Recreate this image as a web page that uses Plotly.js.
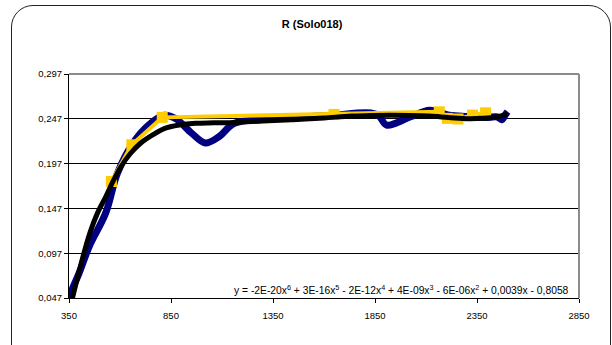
<!DOCTYPE html>
<html><head><meta charset="utf-8">
<script src="https://cdn.plot.ly/plotly-3.0.1.min.js"></script>
<style>
html,body{margin:0;padding:0;background:#fff;}
#frame{position:absolute;left:11px;top:5px;width:600px;height:370px;border:1.5px solid #222;border-radius:22px;box-sizing:border-box;}
#chart{position:absolute;left:0;top:0;width:612px;height:345px;}
</style></head>
<body>
<div id="frame"></div>
<div id="chart"></div>
<script>
// Blue measured series
const blueX = [350, 400, 450, 530, 587, 664, 740, 817, 874, 951, 1018, 1085, 1161, 1352, 1500, 1639, 1830, 1870, 1907, 2022, 2118, 2213, 2300, 2404, 2450, 2471, 2490, 2500];
const blueY = [0.049, 0.075, 0.105, 0.142, 0.186, 0.220, 0.240, 0.251, 0.247, 0.231, 0.220, 0.227, 0.242, 0.247, 0.249, 0.251, 0.2535, 0.250, 0.240, 0.249, 0.2565, 0.251, 0.2495, 0.2485, 0.249, 0.246, 0.252, 0.255];
// Yellow series with markers
const yellowX = [558, 658, 807, 1649, 2165, 2205, 2257, 2328, 2392];
const yellowY = [0.177, 0.218, 0.2486, 0.2519, 0.2548, 0.2475, 0.2468, 0.2511, 0.2537];
// Polynomial trend line
const trendX = [367, 410, 453, 490, 530, 570, 606, 650, 702, 760, 817, 890, 970, 1060, 1161, 1300, 1448, 1600, 1735, 1830, 1926, 2020, 2118, 2210, 2309, 2380, 2443, 2480, 2500];
const trendY = [0.047, 0.086, 0.120, 0.142, 0.160, 0.179, 0.194, 0.208, 0.220, 0.229, 0.236, 0.240, 0.242, 0.2425, 0.243, 0.2445, 0.246, 0.248, 0.250, 0.2507, 0.251, 0.2508, 0.250, 0.2485, 0.247, 0.2475, 0.249, 0.251, 0.253];
const xTicks = [350, 850, 1350, 1850, 2350, 2850];
const yTicks = [0.047, 0.097, 0.147, 0.197, 0.247, 0.297];
const titleText = 'R (Solo018)';
const eqText = 'y = -2E-20x<sup>6</sup> + 3E-16x<sup>5</sup> - 2E-12x<sup>4</sup> + 4E-09x<sup>3</sup> - 6E-06x<sup>2</sup> + 0,0039x - 0,8058';

const traces = [
  {x: blueX, y: blueY, mode: 'lines', line: {color: '#000080', width: 7, shape: 'spline', smoothing: 1}, hoverinfo: 'skip'},
  {x: blueX.slice(0,1), y: blueY.slice(0,1), mode: 'markers', marker: {symbol: 'diamond', size: 9, color: '#000080'}, hoverinfo: 'skip'},
  {x: yellowX, y: yellowY, mode: 'lines+markers', line: {color: '#FFCC00', width: 4}, marker: {symbol: 'square', size: 11, color: '#FFCC00'}, hoverinfo: 'skip'},
  {x: trendX, y: trendY, mode: 'lines', line: {color: '#000000', width: 5, shape: 'spline', smoothing: 1}, hoverinfo: 'skip'}
];

const layout = {
  width: 612, height: 345,
  margin: {l: 69, r: 33, t: 74, b: 47},
  paper_bgcolor: 'rgba(0,0,0,0)',
  plot_bgcolor: 'rgba(0,0,0,0)',
  showlegend: false,
  separators: ',.',
  font: {family: 'Liberation Sans, Arial, sans-serif', size: 9.5, color: '#000'},
  title: {text: '<b>' + titleText + '</b>', x: 0.51, xref: 'container', y: 0.93, yref: 'container', xanchor: 'center', yanchor: 'middle', font: {size: 11, family: 'Liberation Sans, Arial, sans-serif', color: '#000'}},
  xaxis: {range: [350, 2850], tickvals: xTicks, ticktext: xTicks.map(String), showgrid: false, zeroline: false, showline: true, linecolor: '#000', linewidth: 1, ticks: 'outside', ticklen: 4, tickcolor: '#000', tickfont: {size: 9.5}, ticklabelstandoff: 5},
  yaxis: {range: [0.047, 0.297], tickvals: yTicks, tickformat: '.3f', showgrid: true, gridcolor: '#000', gridwidth: 1, zeroline: false, showline: true, linecolor: '#000', linewidth: 1, ticks: 'outside', ticklen: 4, tickcolor: '#000', tickfont: {size: 9.5}},
  shapes: [
    {type: 'line', xref: 'paper', yref: 'paper', x0: 0, x1: 1, y0: 1, y1: 1, line: {color: '#8c8c8c', width: 2}},
    {type: 'line', xref: 'paper', yref: 'paper', x0: 1, x1: 1, y0: 0, y1: 1, line: {color: '#8c8c8c', width: 2}}
  ],
  annotations: [
    {text: eqText, xref: 'paper', yref: 'paper', x: 0.985, y: 0.04, xanchor: 'right', yanchor: 'middle', showarrow: false, font: {size: 10.3, color: '#000'}}
  ]
};
Plotly.newPlot('chart', traces, layout, {staticPlot: true, displayModeBar: false});
</script>
</body></html>
